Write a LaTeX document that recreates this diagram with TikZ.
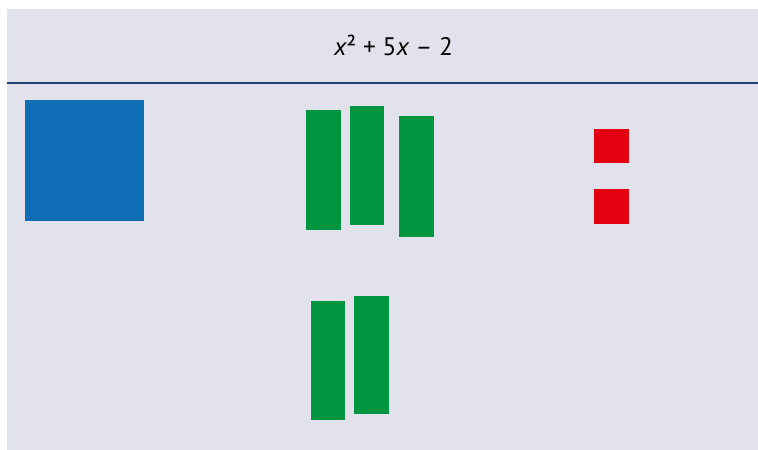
\documentclass[tikz,border=0pt]{standalone}
\usepackage{fontspec}
\setmainfont{PT Sans}
\definecolor{bg}{HTML}{E2E2EC}
\definecolor{navy}{HTML}{1D3F72}
\definecolor{tileblue}{HTML}{106EB7}
\definecolor{tilegreen}{HTML}{00953F}
\definecolor{tilered}{HTML}{E3000F}
\begin{document}
\begin{tikzpicture}[x=0.75pt,y=-0.75pt,
  tile/.style={draw=none,inner sep=0pt,outer sep=0pt},
  xsq/.style={tile,fill=tileblue},
  xbar/.style={tile,fill=tilegreen},
  unit/.style={tile,fill=tilered}]
\useasboundingbox (0,0) rectangle (758,450);
\fill[bg] (7,9) rectangle (758,450);
\node[font=\fontsize{19}{22}\selectfont,inner sep=0pt] (title) at (393.5,45) {{\itshape x}² + 5{\itshape x} – 2};
\coordinate (ruleL) at (7,83);
\coordinate (ruleR) at (758,83);
\draw[navy,line width=2.2pt] (ruleL) -- (ruleR);
% x^2 tile
\fill[tileblue] (25,100) rectangle (144,221);
% x tiles
\fill[tilegreen] (306,110) rectangle (341,230);
\fill[tilegreen] (350,106) rectangle (384,225);
\fill[tilegreen] (399,116) rectangle (434,237);
\fill[tilegreen] (311,301) rectangle (345,420);
\fill[tilegreen] (354,296) rectangle (389,414);
% unit tiles
\fill[tilered] (594,129) rectangle (629,163);
\fill[tilered] (594,189) rectangle (629,224);
\end{tikzpicture}
\end{document}
